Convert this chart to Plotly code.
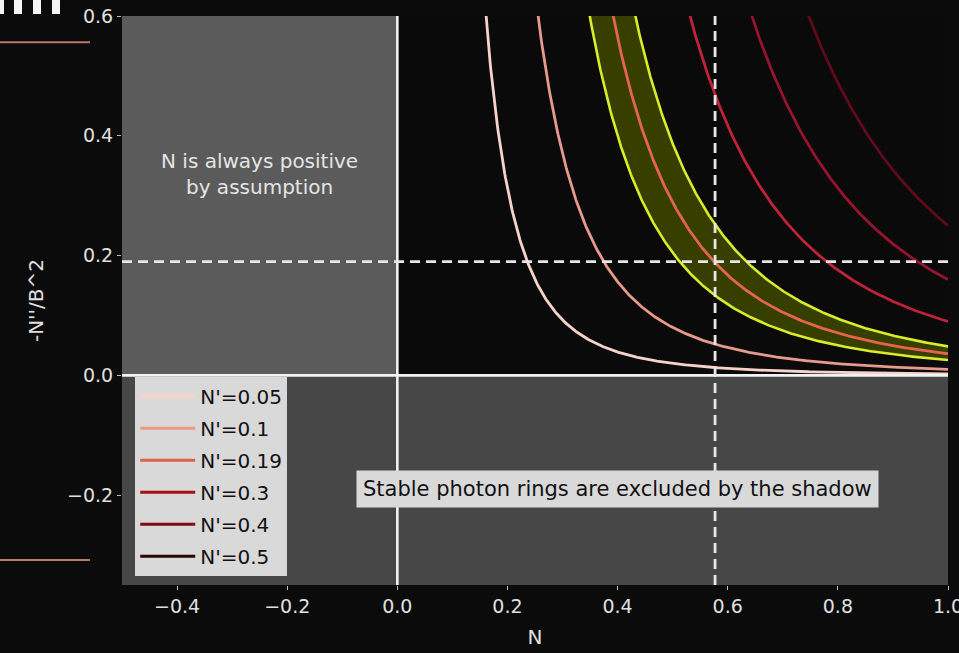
import numpy as np
import plotly.graph_objects as go

# Slope values N' for each curve of -N''/B^2 = N'^2 / N^3
N_PRIME = [0.05, 0.1, 0.19, 0.3, 0.4, 0.5]
LINE_COLORS = ["#f6d2c8", "#e69a8c", "#e4654c", "#c0223a", "#961430", "#600a1c"]
LEGEND_COLORS = ["#fbd3c4", "#ef9a80", "#e0604a", "#a50f15", "#800a14", "#2a0004"]
BAND_N_PRIME = [0.16, 0.22]   # allowed band around N'=0.19
N_STAR = 0.577                # vertical marker
Y_STAR = 0.19                 # horizontal marker
X_TICKS = [-0.4, -0.2, 0.0, 0.2, 0.4, 0.6, 0.8, 1.0]
Y_TICKS = [-0.2, 0.0, 0.2, 0.4, 0.6]

X_RANGE = [-0.5, 1.0]
Y_RANGE = [-0.35, 0.6]

n_grid = np.linspace(0.12, 1.0, 600)


def curve(np_val):
    return np_val ** 2 / n_grid ** 3


def fmt(v):
    s = f"{abs(v):.1f}"
    return ("\u2212" + s) if v < 0 else s


fig = go.Figure()

# yellow band between the two bounding curves
lo, hi = BAND_N_PRIME
fig.add_trace(go.Scatter(x=n_grid, y=curve(lo), mode="lines",
                         line=dict(color="#d9ec2c", width=2.6),
                         showlegend=False, hoverinfo="skip"))
fig.add_trace(go.Scatter(x=n_grid, y=curve(hi), mode="lines",
                         line=dict(color="#d9ec2c", width=2.6),
                         fill="tonexty", fillcolor="#373f00",
                         showlegend=False, hoverinfo="skip"))

# one curve per N' value; the legend swatch uses a separate hidden trace
for i, (v, c, lc) in enumerate(zip(N_PRIME, LINE_COLORS, LEGEND_COLORS)):
    fig.add_trace(go.Scatter(x=n_grid, y=curve(v), mode="lines",
                             line=dict(color=c, width=2.8),
                             showlegend=False, legendgroup=f"g{i}"))
    fig.add_trace(go.Scatter(x=[None], y=[None], mode="lines",
                             line=dict(color=lc, width=3),
                             name=f"N'={v:g}", legendgroup=f"g{i}"))

shapes = [
    # excluded regions
    dict(type="rect", xref="x", yref="y", x0=X_RANGE[0], x1=0, y0=0, y1=Y_RANGE[1],
         fillcolor="#5b5b5b", line=dict(width=0), layer="below"),
    dict(type="rect", xref="x", yref="y", x0=X_RANGE[0], x1=X_RANGE[1], y0=Y_RANGE[0], y1=0,
         fillcolor="#474747", line=dict(width=0), layer="below"),
    # axes through origin
    dict(type="line", xref="x", yref="y", x0=X_RANGE[0], x1=X_RANGE[1], y0=0, y1=0,
         line=dict(color="#f2f2f2", width=2.6)),
    dict(type="line", xref="x", yref="y", x0=0, x1=0, y0=Y_RANGE[0], y1=Y_RANGE[1],
         line=dict(color="#f2f2f2", width=2.6)),
    # dashed markers
    dict(type="line", xref="x", yref="y", x0=X_RANGE[0], x1=X_RANGE[1], y0=Y_STAR, y1=Y_STAR,
         line=dict(color="#e6e6e6", width=2.8, dash="10px,6px")),
    dict(type="line", xref="x", yref="y", x0=N_STAR, x1=N_STAR, y0=Y_RANGE[0], y1=Y_RANGE[1],
         line=dict(color="#e6e6e6", width=2.8, dash="10px,6px")),
    # edge decorations outside the axes
    dict(type="line", xref="paper", yref="paper", x0=-0.1477, x1=-0.0387, y0=0.954, y1=0.954,
         line=dict(color="#b87a68", width=2)),
    dict(type="line", xref="paper", yref="paper", x0=-0.1477, x1=-0.0387, y0=0.044, y1=0.044,
         line=dict(color="#b87a68", width=2)),
]
for xa, xb in [(-3, 4), (14, 22), (33, 41), (52, 60)]:
    shapes.append(dict(type="rect", xref="paper", yref="paper",
                       x0=(xa - 122) / 826, x1=(xb - 122) / 826,
                       y0=(585 - 14) / 569, y1=(585 + 4) / 569,
                       fillcolor="#f4f4f4", line=dict(width=0)))

annotations = [
    dict(x=-0.25, y=0.336, xref="x", yref="y", showarrow=False,
         text="N is always positive<br>by assumption",
         font=dict(family="DejaVu Sans", size=20, color="#e4e4e4")),
    dict(x=0.4, y=-0.19, xref="x", yref="y", showarrow=False,
         text="Stable photon rings are excluded by the shadow",
         font=dict(family="DejaVu Sans", size=21, color="#111111"),
         bgcolor="#d9d9d9", borderpad=6),
]

fig.update_layout(
    width=959, height=653,
    margin=dict(l=122, r=11, t=16, b=68),
    paper_bgcolor="#0b0b0b", plot_bgcolor="#0a0a0a",
    font=dict(family="DejaVu Sans", size=19, color="#e0e0e0"),
    shapes=shapes, annotations=annotations,
    showlegend=True,
    legend=dict(x=0.016, y=0.366, xanchor="left", yanchor="top",
                bgcolor="#d9d9d9", borderwidth=0, tracegroupgap=3,
                font=dict(family="DejaVu Sans", size=20, color="#111111"),
                itemwidth=55),
    xaxis=dict(range=X_RANGE, tickvals=X_TICKS, ticktext=[fmt(v) for v in X_TICKS],
               showgrid=False, zeroline=False, ticks="outside", ticklen=4,
               ticklabeloverflow="allow", automargin=False,
               tickcolor="#bbbbbb", title=dict(text="N", font=dict(size=20), standoff=14)),
    yaxis=dict(range=Y_RANGE, tickvals=Y_TICKS, ticktext=[fmt(v) for v in Y_TICKS],
               showgrid=False, zeroline=False, ticks="outside", ticklen=4,
               ticklabeloverflow="allow", automargin=False,
               tickcolor="#bbbbbb", title=dict(text="-N''/B^2", font=dict(size=20), standoff=18)),
)

fig.write_html("out.html")
